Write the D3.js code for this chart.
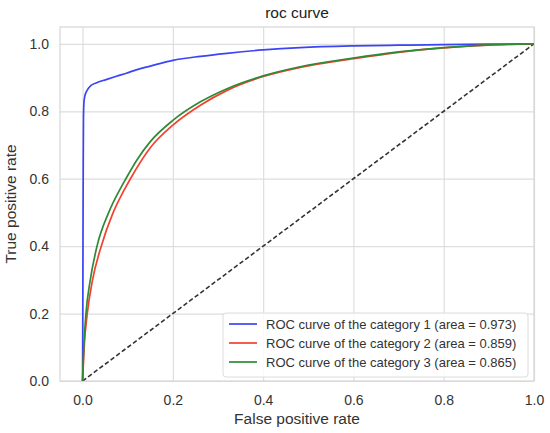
<!DOCTYPE html>
<html>
<head>
<meta charset="utf-8">
<script src="https://cdn.jsdelivr.net/npm/d3@7/dist/d3.min.js"></script>
<style>
  html, body { margin: 0; padding: 0; background: #fff; }
  svg { display: block; font-family: "Liberation Sans", Arial, sans-serif; }
</style>
</head>
<body>
<svg id="chart" width="550" height="433"></svg>
<script>
// ---- data ----
const title = "roc curve";
const xLabel = "False positive rate";
const yLabel = "True positive rate";
const xTicks = [0.0, 0.2, 0.4, 0.6, 0.8, 1.0];
const yTicks = [0.0, 0.2, 0.4, 0.6, 0.8, 1.0];
const categories = [
  "ROC curve of the category 1 (area = 0.973)",
  "ROC curve of the category 2 (area = 0.859)",
  "ROC curve of the category 3 (area = 0.865)"
];
const colors = ["#3b45f5", "#f5402f", "#2f8a35"];

const fpr1 = [0, 0.0005, 0.001, 0.0015, 0.002, 0.003, 0.005, 0.008, 0.013, 0.019, 0.03, 0.052, 0.075, 0.097, 0.119, 0.15, 0.2, 0.261, 0.32, 0.4, 0.482, 0.6, 0.7, 0.8, 0.9, 1.0];
const tpr1 = [0, 0.2, 0.45, 0.65, 0.78, 0.825, 0.845, 0.857, 0.868, 0.877, 0.884, 0.894, 0.904, 0.913, 0.923, 0.934, 0.951, 0.963, 0.972, 0.982, 0.989, 0.994, 0.996, 0.998, 0.999, 1.0];

const fpr2 = [0, 0.001, 0.004, 0.0104, 0.022, 0.0414, 0.067, 0.092, 0.106, 0.15, 0.2, 0.261, 0.32, 0.4, 0.482, 0.6, 0.7, 0.8, 0.9, 1.0];
const tpr2 = [0, 0.03, 0.11, 0.2, 0.299, 0.4, 0.497, 0.566, 0.6, 0.692, 0.759, 0.818, 0.862, 0.903, 0.93, 0.956, 0.975, 0.988, 0.996, 1.0];

const fpr3 = [0, 0.001, 0.004, 0.0075, 0.017, 0.032, 0.058, 0.0835, 0.096, 0.12, 0.15, 0.2, 0.261, 0.32, 0.4, 0.482, 0.6, 0.7, 0.8, 0.9, 1.0];
const tpr3 = [0, 0.045, 0.131, 0.2, 0.299, 0.4, 0.5, 0.57, 0.6, 0.655, 0.71, 0.773, 0.828, 0.867, 0.905, 0.932, 0.958, 0.976, 0.989, 0.997, 1.0];

const series = [
  { name: categories[0], fpr: fpr1, tpr: tpr1, color: colors[0] },
  { name: categories[1], fpr: fpr2, tpr: tpr2, color: colors[1] },
  { name: categories[2], fpr: fpr3, tpr: tpr3, color: colors[2] }
];
const diagonal = [[0, 0], [1, 1]];

// ---- layout ----
const svg = d3.select("#chart");
const pL = 60, pR = 534, pT = 27, pB = 381;
const x = d3.scaleLinear().domain([-0.05, 1.0]).range([pL, pR]);
const y = d3.scaleLinear().domain([0, 1.05]).range([pB, pT]);

svg.append("rect").attr("x", pL).attr("y", pT)
  .attr("width", pR - pL).attr("height", pB - pT).attr("fill", "#fff");

// grid + tick labels
const gx = svg.append("g").attr("transform", `translate(0,${pB})`)
  .call(d3.axisBottom(x).tickValues(xTicks).tickSize(-(pB - pT)).tickFormat(d3.format(".1f")).tickPadding(14));
const gy = svg.append("g").attr("transform", `translate(${pL},0)`)
  .call(d3.axisLeft(y).tickValues(yTicks).tickSize(-(pR - pL)).tickFormat(d3.format(".1f")).tickPadding(11));
[gx, gy].forEach(g => {
  g.select(".domain").remove();
  g.selectAll(".tick line").attr("stroke", "#dedede").attr("stroke-width", 1.2);
  g.selectAll(".tick text").attr("fill", "#333").style("font-size", "14px")
    .style("font-family", "'Liberation Sans', Arial, sans-serif");
});

// frame
svg.append("rect").attr("x", pL).attr("y", pT)
  .attr("width", pR - pL).attr("height", pB - pT)
  .attr("fill", "none").attr("stroke", "#d6d6d6").attr("stroke-width", 1.2);

svg.append("clipPath").attr("id", "clip").append("rect")
  .attr("x", pL).attr("y", pT).attr("width", pR - pL).attr("height", pB - pT);
const plot = svg.append("g").attr("clip-path", "url(#clip)");

const line = d3.line().x(d => x(d[0])).y(d => y(d[1])).curve(d3.curveMonotoneX);

// diagonal
plot.append("path").datum(diagonal)
  .attr("d", d3.line().x(d => x(d[0])).y(d => y(d[1])))
  .attr("fill", "none").attr("stroke", "#333").attr("stroke-width", 1.6)
  .attr("stroke-dasharray", "4.5,2.5");

series.forEach(s => {
  const pts = s.fpr.map((f, i) => [f, s.tpr[i]]);
  plot.append("path").datum(pts).attr("d", line)
    .attr("fill", "none").attr("stroke", s.color).attr("stroke-width", 1.7)
    .attr("stroke-linejoin", "round");
});

// title & labels
svg.append("text").attr("x", (pL + pR) / 2).attr("y", 18)
  .attr("text-anchor", "middle").attr("fill", "#222").style("font-size", "15.5px").text(title);
svg.append("text").attr("x", (pL + pR) / 2).attr("y", 424)
  .attr("text-anchor", "middle").attr("fill", "#333").style("font-size", "15.5px").text(xLabel);
svg.append("text").attr("transform", `translate(16,${(pT + pB) / 2}) rotate(-90)`)
  .attr("text-anchor", "middle").attr("fill", "#333").style("font-size", "15.5px").text(yLabel);

// legend
const lg = svg.append("g");
lg.append("rect").attr("x", 223).attr("y", 313).attr("width", 305).attr("height", 64)
  .attr("rx", 3).attr("fill", "#fff").attr("fill-opacity", 0.85)
  .attr("stroke", "#dcdcdc").attr("stroke-width", 1);
series.forEach((s, i) => {
  const yy = 324 + i * 19;
  lg.append("line").attr("x1", 229).attr("x2", 257).attr("y1", yy).attr("y2", yy)
    .attr("stroke", s.color).attr("stroke-width", 1.7);
  lg.append("text").attr("x", 266).attr("y", yy + 4.5).attr("fill", "#333")
    .style("font-size", "13px").text(s.name);
});
</script>
</body>
</html>
